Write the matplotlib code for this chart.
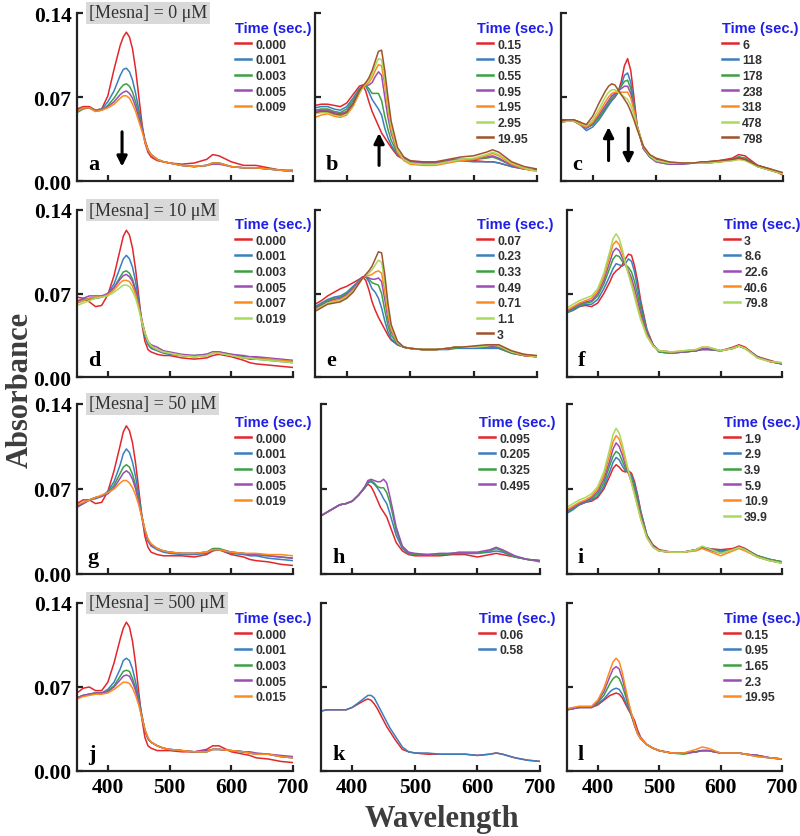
import matplotlib
matplotlib.use('Agg')
import matplotlib.pyplot as plt
from matplotlib.font_manager import FontProperties

# wavelength grid (nm) the spectra were read at
WL = [350, 360, 370, 380, 390, 400, 410,
      420, 425, 430, 435, 440, 445, 450, 455, 460, 465, 470,
      480, 490, 500,
      520, 540, 560, 570, 580,
      600, 620, 630, 640,
      660, 680, 700]

MESNA = ['0', '10', '50', '500']

TIMES_a = ['0.000', '0.001', '0.003', '0.005', '0.009']
SPEC_a = [
    [.060,.062,.062,.059,.060,.071,.093, .113,.120,.124,.120,.110,.093,.071,.049,.032,.024,.020, .017,.016,.015, .014,.015,.018,.022,.021, .016,.013,.013,.013, .011,.009,.009],
    [.059,.061,.061,.059,.060,.066,.075, .088,.093,.094,.091,.084,.073,.060,.046,.034,.026,.022, .018,.016,.015, .013,.012,.013,.015,.015, .012,.011,.011,.011, .010,.009,.008],
    [.057,.060,.061,.059,.059,.063,.069, .077,.080,.081,.079,.074,.066,.056,.045,.034,.026,.022, .018,.016,.015, .013,.012,.013,.015,.015, .012,.011,.011,.011, .010,.009,.008],
    [.058,.061,.061,.058,.059,.062,.066, .072,.074,.075,.073,.069,.062,.053,.044,.034,.026,.022, .018,.016,.015, .013,.012,.013,.014,.014, .012,.011,.011,.011, .010,.009,.008],
    [.058,.061,.061,.058,.059,.061,.064, .069,.071,.071,.069,.064,.058,.050,.042,.033,.026,.022, .018,.016,.015, .013,.012,.013,.015,.015, .012,.011,.011,.011, .010,.009,.008],
]

TIMES_b = ['0.15', '0.35', '0.55', '0.95', '1.95', '2.95', '19.95']
SPEC_b = [
    [.063,.064,.064,.063,.062,.065,.072, .079,.080,.075,.066,.058,.052,.046,.040,.036,.032,.028, .021,.018,.016, .015,.015,.016,.017,.017, .017,.016,.016,.015, .012,.010,.009],
    [.061,.062,.062,.060,.059,.062,.069, .077,.079,.079,.074,.068,.064,.060,.055,.044,.036,.030, .022,.018,.016, .015,.015,.016,.017,.017, .016,.016,.016,.015, .012,.010,.009],
    [.059,.060,.060,.058,.057,.060,.067, .076,.079,.080,.077,.073,.073,.073,.067,.054,.043,.034, .023,.019,.016, .015,.015,.017,.018,.018, .018,.019,.020,.018, .013,.010,.009],
    [.058,.059,.059,.057,.056,.058,.065, .075,.079,.080,.080,.082,.087,.091,.088,.070,.053,.040, .024,.019,.016, .015,.015,.017,.018,.018, .018,.020,.021,.019, .013,.010,.009],
    [.053,.055,.056,.054,.053,.055,.062, .073,.078,.080,.082,.086,.092,.097,.096,.080,.060,.043, .024,.017,.014, .013,.013,.015,.016,.017, .018,.021,.023,.021, .014,.010,.008],
    [.056,.057,.057,.055,.054,.056,.063, .074,.078,.081,.084,.089,.096,.102,.101,.086,.064,.046, .026,.018,.015, .014,.014,.016,.017,.018, .019,.022,.024,.022, .015,.011,.008],
    [.057,.058,.058,.056,.055,.057,.064, .075,.079,.082,.086,.092,.100,.108,.109,.092,.070,.050, .028,.020,.017, .016,.016,.018,.019,.020, .021,.024,.026,.024, .016,.012,.010],
]

TIMES_c = ['6', '118', '178', '238', '318', '478', '798']
SPEC_c = [
    [.051,.051,.051,.049,.045,.047,.053, .060,.064,.067,.070,.074,.083,.096,.102,.092,.070,.046, .027,.021,.018, .015,.015,.015,.015,.016, .017,.019,.022,.021, .013,.010,.005],
    [.049,.050,.050,.047,.042,.045,.051, .059,.063,.067,.070,.074,.080,.088,.090,.082,.065,.046, .027,.020,.017, .015,.015,.015,.015,.016, .016,.018,.020,.019, .013,.009,.006],
    [.049,.050,.050,.047,.044,.047,.053, .061,.065,.069,.072,.075,.079,.083,.084,.077,.063,.046, .027,.020,.016, .014,.014,.015,.015,.015, .016,.018,.020,.019, .012,.009,.006],
    [.049,.050,.050,.047,.044,.048,.055, .063,.067,.071,.073,.075,.077,.079,.079,.073,.061,.046, .027,.020,.016, .014,.014,.015,.015,.015, .016,.018,.019,.018, .012,.009,.006],
    [.049,.050,.050,.047,.045,.049,.057, .066,.070,.073,.074,.074,.074,.074,.074,.069,.059,.046, .028,.021,.017, .015,.015,.015,.015,.016, .016,.017,.018,.018, .012,.009,.006],
    [.049,.050,.050,.048,.046,.051,.060, .070,.074,.076,.076,.074,.072,.070,.068,.063,.055,.045, .029,.021,.017, .015,.015,.015,.015,.015, .016,.017,.018,.017, .012,.009,.006],
    [.050,.051,.051,.049,.047,.054,.065, .075,.079,.081,.080,.076,.072,.068,.064,.058,.051,.043, .029,.022,.019, .016,.015,.015,.016,.016, .017,.018,.019,.018, .013,.010,.007],
]

TIMES_d = ['0.000', '0.001', '0.003', '0.005', '0.007', '0.019']
SPEC_d = [
    [.067,.066,.063,.059,.060,.069,.085, .107,.118,.123,.119,.108,.090,.068,.045,.030,.023,.021, .019,.018,.018, .016,.015,.016,.018,.019, .017,.014,.012,.011, .010,.009,.008],
    [.064,.065,.066,.066,.067,.070,.078, .092,.099,.102,.099,.092,.080,.064,.047,.034,.027,.024, .022,.020,.019, .018,.017,.018,.020,.020, .018,.016,.015,.015, .014,.013,.012],
    [.062,.064,.065,.066,.067,.069,.075, .084,.088,.089,.087,.082,.073,.061,.047,.036,.029,.025, .023,.021,.020, .018,.018,.019,.021,.021, .019,.017,.016,.016, .015,.014,.013],
    [.063,.066,.068,.068,.068,.070,.075, .082,.085,.086,.084,.080,.072,.061,.048,.037,.030,.027, .025,.022,.021, .019,.018,.019,.021,.021, .019,.018,.017,.017, .016,.015,.014],
    [.062,.064,.066,.067,.067,.069,.073, .079,.081,.081,.080,.076,.069,.059,.047,.037,.030,.026, .023,.021,.020, .018,.017,.018,.020,.020, .018,.016,.016,.015, .015,.014,.013],
    [.060,.062,.064,.066,.067,.068,.071, .075,.077,.077,.076,.072,.066,.057,.046,.037,.030,.026, .023,.021,.020, .018,.017,.018,.020,.020, .018,.016,.016,.015, .014,.013,.012],
]

TIMES_e = ['0.07', '0.23', '0.33', '0.49', '0.71', '1.1', '3']
SPEC_e = [
    [.061,.064,.068,.071,.074,.076,.079, .082,.084,.081,.073,.063,.056,.050,.045,.040,.035,.031, .027,.025,.024, .023,.023,.024,.024,.025, .025,.025,.025,.024, .020,.018,.017],
    [.059,.062,.065,.067,.068,.071,.076, .081,.083,.084,.080,.074,.071,.066,.058,.047,.038,.032, .027,.025,.024, .023,.023,.023,.024,.024, .024,.024,.024,.024, .020,.018,.017],
    [.058,.061,.064,.066,.067,.070,.075, .080,.083,.084,.082,.079,.078,.077,.070,.056,.043,.035, .028,.025,.024, .023,.023,.024,.024,.025, .025,.025,.025,.025, .020,.018,.017],
    [.057,.060,.063,.065,.066,.069,.074, .080,.083,.084,.083,.082,.082,.083,.080,.065,.049,.038, .029,.025,.024, .023,.023,.024,.025,.025, .025,.026,.026,.026, .021,.018,.017],
    [.056,.059,.062,.064,.065,.068,.073, .079,.083,.085,.085,.086,.088,.089,.087,.072,.053,.040, .029,.025,.024, .023,.023,.024,.025,.025, .025,.026,.027,.026, .021,.018,.017],
    [.056,.059,.062,.063,.064,.067,.072, .079,.083,.085,.087,.090,.094,.098,.096,.079,.058,.042, .029,.025,.024, .023,.023,.024,.025,.025, .025,.026,.027,.026, .021,.019,.017],
    [.055,.058,.061,.062,.063,.066,.071, .079,.083,.086,.089,.093,.099,.105,.104,.086,.062,.044, .030,.025,.024, .023,.023,.024,.025,.025, .026,.027,.027,.027, .022,.019,.018],
]

# the green trace in f has no legend entry in the original
TIMES_f = ['3', '8.6', None, '22.6', '40.6', '79.8']
SPEC_f = [
    [.054,.056,.059,.060,.059,.062,.070, .080,.086,.089,.091,.094,.099,.103,.102,.093,.080,.064, .040,.027,.021, .020,.021,.022,.023,.023, .022,.025,.027,.025, .017,.014,.011],
    [.054,.056,.059,.061,.061,.065,.074, .085,.091,.095,.094,.093,.095,.099,.097,.088,.075,.061, .039,.027,.021, .020,.021,.022,.023,.023, .022,.024,.026,.024, .017,.013,.011],
    [.054,.057,.060,.062,.063,.068,.078, .092,.099,.102,.101,.097,.094,.092,.088,.080,.069,.057, .038,.027,.021, .020,.021,.022,.024,.024, .022,.024,.026,.024, .017,.013,.011],
    [.055,.058,.061,.063,.064,.070,.081, .097,.105,.108,.106,.100,.094,.089,.083,.074,.064,.053, .037,.027,.022, .021,.021,.022,.024,.024, .022,.024,.026,.024, .017,.013,.011],
    [.056,.059,.062,.064,.066,.072,.084, .102,.111,.114,.111,.104,.095,.087,.079,.069,.059,.050, .035,.026,.022, .021,.022,.023,.025,.025, .022,.024,.026,.024, .016,.013,.012],
    [.058,.061,.064,.066,.068,.074,.087, .106,.116,.120,.116,.107,.096,.086,.077,.067,.057,.048, .034,.026,.022, .021,.022,.023,.025,.025, .022,.024,.026,.024, .016,.013,.012],
]

TIMES_g = ['0.000', '0.001', '0.003', '0.005', '0.019']
SPEC_g = [
    [.058,.061,.061,.058,.059,.068,.085, .106,.117,.122,.118,.108,.091,.070,.048,.031,.022,.018, .016,.015,.015, .015,.014,.016,.019,.020, .016,.014,.012,.011, .010,.008,.007],
    [.056,.058,.061,.062,.064,.068,.076, .090,.099,.103,.100,.092,.080,.065,.048,.035,.027,.023, .020,.018,.017, .016,.016,.017,.020,.020, .017,.016,.015,.015, .013,.012,.011],
    [.055,.058,.061,.063,.064,.067,.073, .083,.088,.090,.088,.082,.073,.061,.048,.036,.028,.024, .021,.019,.018, .017,.017,.018,.021,.021, .018,.017,.016,.016, .015,.014,.013],
    [.055,.058,.061,.063,.064,.066,.071, .079,.083,.085,.083,.078,.070,.059,.047,.036,.028,.024, .021,.019,.018, .017,.017,.018,.020,.020, .018,.017,.016,.016, .015,.014,.013],
    [.057,.059,.061,.063,.065,.067,.070, .075,.077,.077,.075,.071,.065,.057,.047,.037,.029,.025, .021,.019,.018, .017,.017,.018,.020,.020, .018,.017,.017,.017, .016,.016,.015],
]

TIMES_h = ['0.095', '0.205', '0.325', '0.495']
SPEC_h = [
    [.048,.051,.054,.057,.058,.060,.065, .071,.074,.072,.067,.061,.055,.051,.047,.040,.033,.026, .019,.016,.015, .015,.015,.016,.016,.016, .014,.016,.017,.016, .014,.012,.011],
    [.048,.051,.054,.057,.058,.060,.065, .071,.075,.076,.074,.071,.067,.062,.058,.050,.041,.032, .021,.017,.016, .016,.016,.017,.017,.017, .017,.018,.019,.018, .014,.012,.011],
    [.048,.051,.054,.057,.058,.060,.065, .071,.076,.077,.075,.072,.071,.071,.067,.059,.048,.036, .022,.017,.016, .016,.016,.017,.017,.017, .017,.019,.021,.019, .014,.012,.010],
    [.048,.051,.054,.057,.058,.060,.065, .072,.077,.078,.077,.076,.076,.078,.075,.064,.052,.039, .023,.018,.017, .016,.017,.017,.018,.018, .018,.020,.022,.020, .015,.012,.011],
]

TIMES_i = ['1.9', '2.9', '3.9', '5.9', '10.9', '39.9']
SPEC_i = [
    [.051,.054,.057,.059,.060,.063,.070, .081,.087,.090,.088,.085,.084,.085,.083,.076,.065,.052, .032,.024,.020, .018,.018,.020,.022,.021, .020,.021,.023,.021, .015,.012,.010],
    [.050,.053,.057,.059,.061,.064,.072, .085,.092,.096,.094,.089,.085,.084,.081,.074,.064,.051, .032,.023,.019, .018,.018,.020,.022,.021, .019,.020,.022,.020, .015,.012,.010],
    [.051,.054,.058,.060,.062,.066,.075, .090,.097,.101,.099,.093,.087,.083,.078,.071,.061,.050, .032,.023,.019, .018,.018,.020,.022,.021, .018,.020,.022,.020, .015,.012,.010],
    [.052,.055,.058,.060,.063,.068,.078, .094,.103,.108,.105,.098,.090,.083,.076,.068,.058,.048, .031,.023,.019, .018,.018,.020,.022,.020, .017,.020,.022,.020, .014,.011,.009],
    [.053,.056,.059,.061,.064,.070,.081, .099,.109,.114,.111,.103,.093,.084,.075,.066,.056,.046, .030,.022,.019, .018,.018,.019,.021,.019, .015,.019,.021,.019, .014,.011,.009],
    [.055,.058,.061,.063,.066,.072,.084, .104,.115,.120,.116,.107,.096,.085,.075,.065,.055,.045, .030,.022,.019, .018,.018,.020,.023,.021, .017,.020,.022,.020, .014,.011,.009],
]

TIMES_j = ['0.000', '0.001', '0.003', '0.005', '0.015']
SPEC_j = [
    [.065,.069,.070,.067,.067,.074,.090, .110,.119,.124,.120,.108,.089,.066,.044,.028,.021,.019, .017,.017,.017, .016,.016,.018,.021,.021, .016,.014,.013,.011, .010,.008,.007],
    [.061,.063,.064,.065,.065,.068,.074, .085,.092,.094,.092,.085,.074,.061,.047,.034,.027,.024, .021,.019,.018, .017,.016,.016,.018,.018, .017,.016,.015,.014, .014,.012,.011],
    [.061,.063,.064,.065,.065,.067,.071, .079,.083,.084,.083,.077,.069,.058,.046,.034,.027,.024, .021,.019,.018, .017,.016,.016,.018,.018, .017,.016,.015,.014, .014,.012,.011],
    [.061,.063,.064,.065,.065,.066,.070, .076,.079,.080,.079,.074,.067,.057,.045,.034,.027,.024, .021,.019,.018, .017,.016,.017,.018,.018, .017,.016,.016,.015, .014,.013,.012],
    [.060,.062,.063,.064,.064,.065,.068, .072,.074,.074,.073,.069,.063,.055,.045,.035,.028,.024, .021,.019,.018, .017,.016,.016,.018,.018, .017,.016,.015,.014, .014,.012,.011],
]

TIMES_k = ['0.06', '0.58']
SPEC_k = [
    [.050,.051,.051,.051,.051,.053,.056, .059,.060,.059,.056,.052,.047,.042,.037,.033,.029,.025, .018,.016,.015, .014,.014,.014,.014,.014, .013,.014,.015,.014, .011,.009,.008],
    [.050,.051,.051,.051,.051,.053,.057, .061,.063,.063,.061,.056,.051,.046,.041,.036,.032,.028, .020,.016,.015, .015,.014,.014,.014,.014, .013,.014,.015,.014, .011,.009,.008],
]

TIMES_l = ['0.15', '0.95', '1.65', '2.3', '19.95']
SPEC_l = [
    [.051,.052,.053,.053,.053,.055,.059, .063,.064,.065,.064,.061,.056,.051,.047,.042,.034,.028, .022,.019,.017, .015,.015,.016,.017,.017, .015,.015,.015,.014, .013,.011,.010],
    [.051,.052,.053,.053,.053,.056,.060, .066,.068,.069,.068,.064,.058,.052,.046,.039,.032,.027, .022,.019,.017, .015,.015,.016,.017,.017, .015,.015,.015,.014, .013,.011,.010],
    [.051,.052,.053,.053,.053,.057,.063, .073,.077,.079,.077,.071,.063,.054,.046,.038,.031,.027, .022,.019,.017, .015,.014,.016,.017,.017, .015,.015,.015,.014, .012,.011,.010],
    [.051,.052,.053,.053,.053,.058,.066, .079,.085,.087,.085,.077,.067,.056,.047,.038,.031,.027, .022,.019,.017, .015,.015,.016,.017,.017, .015,.015,.015,.014, .013,.011,.010],
    [.052,.053,.054,.054,.054,.059,.069, .084,.091,.094,.091,.082,.070,.058,.048,.039,.031,.027, .022,.019,.017, .015,.015,.018,.020,.019, .015,.015,.015,.014, .012,.011,.010],
]

COLORS = ['#e3262b', '#3a7fc0', '#3ca043', '#9a4db5', '#ff8a1c', '#a8da5c', '#a0522d']

PANELS = [
    ('a', TIMES_a, SPEC_a), ('b', TIMES_b, SPEC_b), ('c', TIMES_c, SPEC_c),
    ('d', TIMES_d, SPEC_d), ('e', TIMES_e, SPEC_e), ('f', TIMES_f, SPEC_f),
    ('g', TIMES_g, SPEC_g), ('h', TIMES_h, SPEC_h), ('i', TIMES_i, SPEC_i),
    ('j', TIMES_j, SPEC_j), ('k', TIMES_k, SPEC_k), ('l', TIMES_l, SPEC_l),
]

# panel arrows: (panel, wavelength, y tail, y head)
ARROWS = [('a', 423, 0.041, 0.012), ('b', 451, 0.013, 0.040),
          ('c', 425, 0.017, 0.045), ('c', 456, 0.044, 0.014)]

# layout in pixels of the 800x837 figure
W, H = 800, 837
ROWS = [(14, 182), (211, 378), (405, 575), (604, 772)]
COLS = [[(77, 293), (77, 293), (77, 293), (77, 293)],
        [(315, 537), (315, 537), (321, 540), (321, 540)],
        [(561, 783), (567, 782), (567, 782), (567, 782)]]
LEG_X = [[235, 235, 235, 235], [477, 477, 479, 479], [722, 724, 724, 724]]
LEG_Y = [28, 224, 422, 618]

serif = 'Liberation Serif'
sans = 'Liberation Sans'

fig = plt.figure(figsize=(W / 100, H / 100), dpi=100)

for n, (letter, times, spec) in enumerate(PANELS):
    r, c = divmod(n, 3)
    top, bot = ROWS[r]
    x0, x1 = COLS[c][r]
    ax = fig.add_axes([x0 / W, 1 - bot / H, (x1 - x0) / W, (bot - top) / H])

    for k, curve in enumerate(spec):
        lab = times[k] if times[k] is not None else '_nolegend_'
        ax.plot(WL, curve, color=COLORS[k], lw=1.1, label=lab)

    ax.set_xlim(350, 700)
    ax.set_ylim(0, 0.14)
    ax.set_xticks([400, 500, 600, 700])
    ax.set_yticks([0.0, 0.07, 0.14])
    for s in ['top', 'right']:
        ax.spines[s].set_visible(False)
    for s in ['left', 'bottom']:
        ax.spines[s].set_linewidth(1.6)
        ax.spines[s].set_color('#222222')
    ax.tick_params(direction='in', length=4, width=1.6, color='#222222', pad=4)
    if c == 0:
        ax.set_yticklabels(['0.00', '0.07', '0.14'], fontfamily=serif,
                           fontweight='bold', fontsize=15.5)
    else:
        ax.set_yticklabels([])
    if r == 3:
        ax.set_xticklabels(['400', '500', '600', '700'], fontfamily=serif,
                           fontweight='bold', fontsize=15.5)
    else:
        ax.set_xticklabels([])

    ax.text(0.05, 0.04, letter, transform=ax.transAxes, fontsize=16,
            fontfamily=serif, fontweight='bold', ha='left', va='bottom')

    if c == 0:
        ax.text(0.055, 1.0, '[Mesna] = %s \u03bcM' % MESNA[r], transform=ax.transAxes,
                fontsize=13, fontfamily=serif, color='#333333', va='center', ha='left',
                bbox=dict(boxstyle='square,pad=0.15', fc='#d9d9d9', ec='none'), zorder=5)

    leg = ax.legend(loc='upper left', frameon=False,
                    bbox_to_anchor=(LEG_X[c][r] / W, 1 - (LEG_Y[r] - 6) / H),
                    bbox_transform=fig.transFigure,
                    prop=FontProperties(family=sans, weight='bold', size=8.8),
                    title='Time (sec.)',
                    title_fontproperties=FontProperties(family=sans, weight='bold', size=10.5),
                    alignment='left', borderpad=0, borderaxespad=0,
                    handlelength=1.3, handletextpad=0.35, labelspacing=0.3)
    leg.get_title().set_color('#1f1fe8')
    for t in leg.get_texts():
        t.set_color('#303030')
    for h in leg.legend_handles:
        h.set_linewidth(1.8)

    for p, wl, y0, y1 in ARROWS:
        if p == letter:
            ax.annotate('', xy=(wl, y1), xytext=(wl, y0),
                        arrowprops=dict(arrowstyle='-|>', color='black', lw=2.2,
                                        mutation_scale=15, shrinkA=0, shrinkB=0))

fig.text(20 / W, 1 - 390 / H, 'Absorbance', rotation=90, ha='center', va='center',
         fontsize=22, fontfamily=serif, fontweight='bold', color='#3d3d3d')
fig.text(442 / W, 1 - 820 / H, 'Wavelength', ha='center', va='center',
         fontsize=22, fontfamily=serif, fontweight='bold', color='#3d3d3d')

fig.savefig('out.png', dpi=100)
